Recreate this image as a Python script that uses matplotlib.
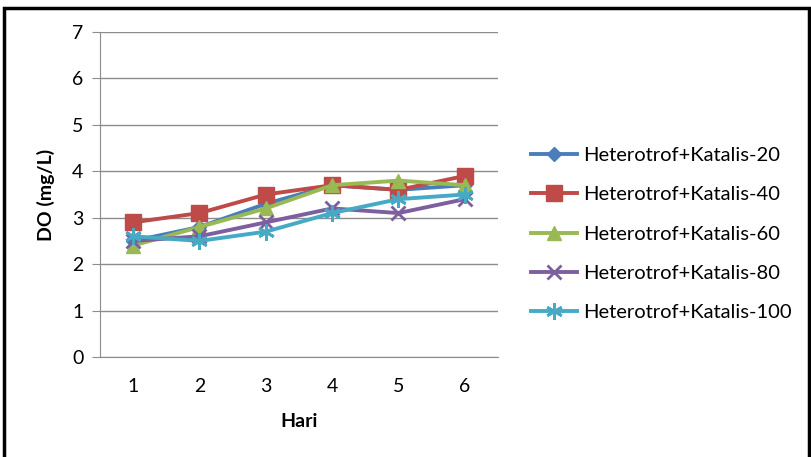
import matplotlib.pyplot as plt
from matplotlib.patches import Rectangle

plt.rcParams['font.family'] = ['Lato', 'DejaVu Sans']

hari = [1, 2, 3, 4, 5, 6]
labels = ['Heterotrof+Katalis-20', 'Heterotrof+Katalis-40', 'Heterotrof+Katalis-60',
          'Heterotrof+Katalis-80', 'Heterotrof+Katalis-100']
k20 = [2.5, 2.8, 3.3, 3.7, 3.6, 3.7]
k40 = [2.9, 3.1, 3.5, 3.7, 3.6, 3.9]
k60 = [2.4, 2.8, 3.2, 3.7, 3.8, 3.7]
k80 = [2.5, 2.6, 2.9, 3.2, 3.1, 3.4]
k100 = [2.6, 2.5, 2.7, 3.1, 3.4, 3.5]

series = [k20, k40, k60, k80, k100]
colors = ['#4A7EBB', '#BE4B48', '#98B954', '#7D5FA0', '#46AAC5']
markers = ['D', 's', '^', 'x', (6, 2, 0)]
msizes = [7, 11, 10, 10, 12]

fig = plt.figure(figsize=(8.12, 4.57), dpi=100)
ax = fig.add_axes([100 / 812, 1 - 357 / 457, 398 / 812, 325 / 457])

for ys, lab, c, m, ms in zip(series, labels, colors, markers, msizes):
    ax.plot(hari, ys, color=c, lw=2.8, marker=m, markersize=ms,
            markeredgewidth=2 if m == 'x' or isinstance(m, tuple) else 1,
            markeredgecolor=c, label=lab)

ax.set_xlim(0.5, 6.5)
ax.set_ylim(0, 7)
ax.set_xticks(hari)
ax.set_yticks(range(0, 8))
ax.grid(axis='y', color='#8c8c8c', lw=1)
ax.set_axisbelow(True)
for s in ['top', 'right']:
    ax.spines[s].set_visible(False)
ax.spines['left'].set_color('#8c8c8c')
ax.spines['bottom'].set_color('#8c8c8c')
ax.tick_params(axis='y', length=6, color='#8c8c8c', labelsize=14, pad=6)
ax.tick_params(axis='x', length=0, labelsize=14, pad=15)
ax.set_xlabel('Hari', fontsize=14, fontweight='bold', labelpad=13)
ax.set_ylabel('DO (mg/L)', fontsize=14, fontweight='bold', labelpad=12)

ax.legend(loc='center left', bbox_to_anchor=(513 / 812, 1 - 234 / 457),
          bbox_transform=fig.transFigure, frameon=False, fontsize=14.5,
          handlelength=2.3, handletextpad=0.3, labelspacing=1.1)

fig.patches.append(Rectangle((4 / 812, -0.1), 805 / 812, 1.1 - 8 / 457,
                             transform=fig.transFigure, fill=False,
                             edgecolor='black', lw=2.5))

fig.savefig('out.png', dpi=100)
